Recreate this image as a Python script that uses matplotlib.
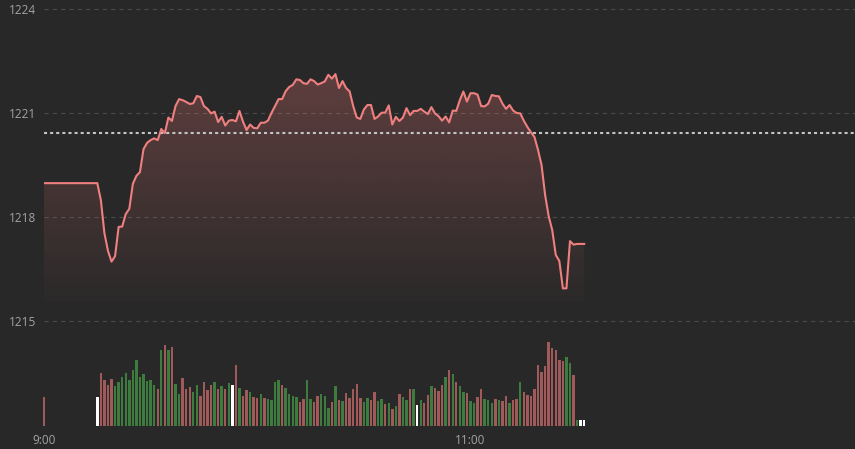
import numpy as np
import matplotlib
matplotlib.use("Agg")
import matplotlib.pyplot as plt

# ---------------- data ----------------
price = [1218.97] * 16 + [
    1218.48, 1217.53, 1217.02, 1216.71, 1216.87, 1217.71, 1217.72, 1218.08, 1218.23, 1218.95,
    1219.18, 1219.29, 1219.95, 1220.13, 1220.21, 1220.26, 1220.21, 1220.53, 1220.41, 1220.86,
    1220.76, 1221.19, 1221.39, 1221.36, 1221.31, 1221.25, 1221.27, 1221.48, 1221.45, 1221.19,
    1221.11, 1220.98, 1221.03, 1220.73, 1220.88, 1220.63, 1220.77, 1220.79, 1220.75, 1221.05,
    1220.74, 1220.50, 1220.66, 1220.56, 1220.55, 1220.71, 1220.71, 1220.77, 1220.99, 1221.19,
    1221.39, 1221.39, 1221.62, 1221.74, 1221.80, 1221.96, 1221.94, 1221.85, 1221.83, 1221.96,
    1221.91, 1221.81, 1221.85, 1221.90, 1222.09, 1221.98, 1222.11, 1221.71, 1221.91, 1221.71,
    1221.61, 1221.19, 1220.86, 1220.82, 1221.09, 1221.22, 1221.22, 1220.82, 1220.89, 1221.00,
    1221.00, 1221.21, 1220.66, 1220.88, 1220.76, 1220.86, 1221.13, 1220.93, 1221.05, 1221.05,
    1221.11, 1221.03, 1220.96, 1221.16, 1220.98, 1220.90, 1220.77, 1220.89, 1220.72, 1221.06,
    1221.05, 1221.36, 1221.61, 1221.32, 1221.56, 1221.56, 1221.52, 1221.19, 1221.18, 1221.26,
    1221.51, 1221.48, 1221.47, 1221.26, 1221.11, 1221.22, 1221.06, 1220.99, 1220.98, 1220.77,
    1220.59, 1220.44, 1220.30, 1219.93, 1219.49, 1218.63, 1218.02, 1217.62, 1216.90, 1216.73,
    1215.94, 1215.94, 1217.30, 1217.20, 1217.22, 1217.22, 1217.22,
]

volume = [29] + [0] * 14 + [
    29, 53, 45.7, 40.7, 46.7, 39.7, 44, 49, 53, 45.7,
    55.7, 65.7, 48.3, 51.7, 45, 45.7, 40.7, 36.7, 75.7, 80.7,
    75.7, 79, 41.7, 31.3, 47.3, 36.3, 38.3, 33.3, 40.7, 29.7,
    43.3, 35.7, 40.7, 43.3, 36.7, 39.7, 36.7, 42.3, 40.7, 60.7,
    37.3, 29.7, 35.7, 34, 29, 27.7, 32, 27.7, 26.3, 25.7,
    44, 45.7, 40.7, 37.3, 31.7, 29.7, 28.3, 23.3, 26.7, 45.7,
    26.7, 23.7, 30, 31.3, 29.7, 18, 23.3, 39.7, 25.7, 25,
    32.3, 27.3, 36.7, 41.3, 27.3, 23.3, 27.3, 25.7, 33.7, 24.7,
    26.3, 21.7, 23, 16.7, 20, 31.3, 29, 25.7, 36.3, 36.7,
    20.7, 25.7, 22.3, 30.7, 39.7, 38, 34.7, 40.7, 48.3, 55.7,
    51.7, 44, 39.7, 33.3, 32.3, 24.7, 23, 29, 36.7, 26.3,
    25.7, 23, 26.7, 25.7, 24.7, 30, 23, 25.7, 26.3, 44,
    33.7, 30.7, 29.7, 36.7, 60.7, 54, 59.7, 83.3, 77.3, 75.7,
    65.7, 65, 68.3, 62.3, 50.7, 5.7, 5.7, 5.7,
]

# bar colour flags: r = red, g = green, w = white
direction = list("r" + "r" * 14 + "w"
                 + "rrrr" + "gggggggggggg" + "r" + "grgr" + "gg" + "rrr" + "gg" + "rrrr"
                 + "g" + "r" + "g" + "r" + "g" + "w" + "r" + "g" + "rr" + "g" + "rr" + "g" + "r"
                 + "gggg" + "r" + "gggg" + "rr" + "g" + "g" + "rr" + "ggg" + "r" + "g" + "r" + "g"
                 + "rrrrr" + "gg" + "rr" + "gg" + "r" + "g" + "r" + "g" + "r" + "gg" + "r" + "g"
                 + "w" + "g" + "rr" + "g" + "rrr" + "g" + "r" + "g" + "r" + "gg" + "r" + "gg"
                 + "rr" + "ggg" + "r" + "g" + "rr" + "g" + "rr" + "g" + "rrrrrrrrrrrr"
                 + "gg" + "r" + "g" + "ww")

ref_price = 1220.42
y_ticks = [1215, 1218, 1221, 1224]
x_tick_pos = [0, 120]
x_tick_labels = ["9:00", "11:00"]

# ---------------- style ----------------
BG = "#282828"
LINE = "#f07f7f"
GRID = "#4c4c4c"
TXT = "#a3a3a3"
BAR_COL = {"r": "#a05a5a", "g": "#3e7b3e", "w": "#ffffff"}

plt.rcParams["font.family"] = ["Open Sans", "DejaVu Sans"]
plt.rcParams["lines.scale_dashes"] = False

W, H = 855, 449
fig = plt.figure(figsize=(W / 100, H / 100), dpi=100, facecolor=BG)

px_per_min = 3.554
x_max = 811 / px_per_min
x = np.arange(len(price))

# price axes: 1224 at y=8.5px, 1215 at y=321px
ppu = (321 - 8.5) / 9.0
top_px, bot_px = 0, 330
ax = fig.add_axes([44 / W, (H - bot_px) / H, 811 / W, (bot_px - top_px) / H])
ax.set_facecolor(BG)
y_top = 1224 + (8.5 - top_px) / ppu
y_bot = 1215 - (bot_px - 321) / ppu

for yt in y_ticks:
    ax.axhline(yt, color=GRID, lw=0.8, dashes=(3, 3), zorder=1)

# gradient fill under the line
base = 1215.55
poly = ax.fill_between(x, price, base, color="none", lw=0)
path = poly.get_paths()[0]
n = 256
grad = np.zeros((n, 1, 4))
grad[..., 0] = 0xe0 / 255
grad[..., 1] = 0x72 / 255
grad[..., 2] = 0x72 / 255
grad[:, 0, 3] = np.linspace(0.02, 0.30, n)
img = ax.imshow(grad, extent=[x[0], x[-1], base, max(price)], origin="lower",
                aspect="auto", zorder=2, interpolation="bilinear")
img.set_clip_path(path, transform=ax.transData)

ax.plot(x, price, color=LINE, lw=1.5, zorder=4, solid_joinstyle="round")
ax.axhline(ref_price, color="#c4c4c4", lw=1.5, dashes=(2.2, 2.2), zorder=3)

ax.set_xlim(0, x_max)
ax.set_ylim(y_bot, y_top)
ax.set_yticks(y_ticks)
ax.set_yticklabels([str(v) for v in y_ticks])
ax.tick_params(axis="y", length=0, pad=6, labelsize=8.5, labelcolor=TXT)
ax.set_xticks([])
for s in ax.spines.values():
    s.set_visible(False)

# volume axes
vb_px = 425.7
vh_px = 88
axv = fig.add_axes([44 / W, (H - vb_px) / H, 811 / W, vh_px / H])
axv.set_facecolor("none")
colors = [BAR_COL[d] for d in direction]
bars = axv.bar(x, volume, width=0.68, color=colors, linewidth=0)
for b in bars:
    b.set_clip_on(False)
axv.set_xlim(0, x_max)
axv.set_ylim(0, vh_px)
axv.set_yticks([])
axv.set_xticks(x_tick_pos)
axv.set_xticklabels(x_tick_labels)
axv.tick_params(axis="x", length=0, pad=6, labelsize=8.5, labelcolor=TXT)
for s in axv.spines.values():
    s.set_visible(False)

fig.savefig("out.png", dpi=100, facecolor=BG)
